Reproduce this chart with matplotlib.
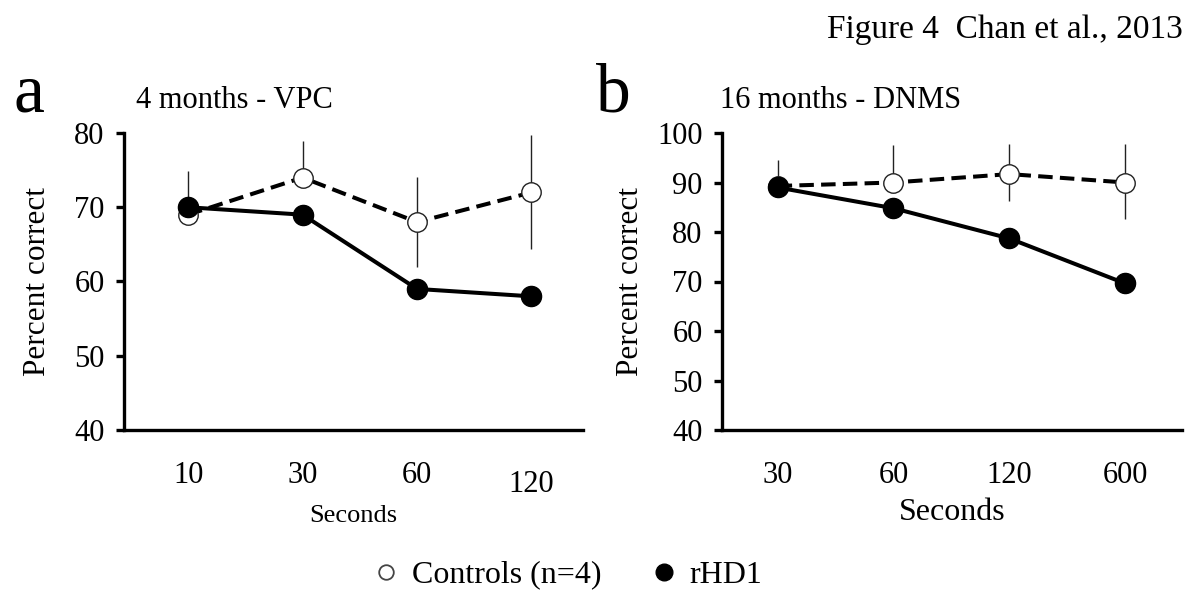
import matplotlib
matplotlib.use("Agg")
import matplotlib.pyplot as plt
from matplotlib.lines import Line2D
from matplotlib.transforms import ScaledTranslation

plt.rcParams['font.family'] = ['Liberation Serif', 'DejaVu Serif']

# Panel a data (4 months - VPC)
a_labels = ["10", "30", "60", "120"]
a_controls = [69.0, 74.0, 68.0, 72.0]
a_ctrl_err_lo = [0.0, 0.0, 6.0, 7.6]
a_ctrl_err_hi = [5.9, 4.9, 6.1, 7.7]
a_rhd1 = [70.0, 69.0, 59.0, 58.0]

# Panel b data (16 months - DNMS)
b_labels = ["30", "60", "120", "600"]
b_controls = [89.3, 90.0, 91.7, 90.0]
b_ctrl_err_lo = [0.0, 0.0, 5.5, 7.4]
b_ctrl_err_hi = [5.3, 7.6, 6.1, 7.8]
b_rhd1 = [89.0, 84.8, 78.7, 69.6]

fig = plt.figure(figsize=(12, 6), dpi=100)

def style_axes(ax, ylim, yticks, xlim):
    for s in ["top", "right"]:
        ax.spines[s].set_visible(False)
    for s in ["left", "bottom"]:
        ax.spines[s].set_linewidth(2.4)
    ax.set_ylim(*ylim)
    ax.set_yticks(yticks)
    ax.set_xlim(*xlim)
    ax.tick_params(axis="y", direction="out", length=6, width=2.4, labelsize=22, pad=8)
    ax.tick_params(axis="x", length=0, labelsize=22, pad=22)

def draw_panel(ax, labels, ctrl, lo, hi, rhd):
    x = list(range(len(labels)))
    ax.errorbar(x, ctrl, yerr=[lo, hi], fmt="none", ecolor="#222222",
                elinewidth=1.0, capsize=0, zorder=2)
    ax.plot(x, ctrl, linestyle=(0, (3.6, 1.8)), color="black", linewidth=2.9,
            marker="o", markersize=14, markerfacecolor="white",
            markeredgecolor="#222222", markeredgewidth=1.0, zorder=3)
    ax.plot(x, rhd, linestyle="-", color="black", linewidth=2.9,
            marker="o", markersize=14.5, markerfacecolor="black",
            markeredgecolor="black", zorder=4)
    ax.set_xticks(x)
    ax.set_xticklabels(labels)

axa = fig.add_axes([124/1200, 1 - 430/600, 459/1200, 297/600])
draw_panel(axa, a_labels, a_controls, a_ctrl_err_lo, a_ctrl_err_hi, a_rhd1)
style_axes(axa, (40, 80), [40, 50, 60, 70, 80], (-0.56, 3.45))
axa.set_ylabel("Percent correct", fontsize=22.5, labelpad=16)
axa.set_xlabel("Seconds", fontsize=19, labelpad=5)
# the last tick label sits slightly lower in the original figure
lbl = axa.get_xticklabels()[3]
lbl.set_transform(lbl.get_transform() + ScaledTranslation(0, -0.09, fig.dpi_scale_trans))

axb = fig.add_axes([722/1200, 1 - 430/600, 460/1200, 297/600])
draw_panel(axb, b_labels, b_controls, b_ctrl_err_lo, b_ctrl_err_hi, b_rhd1)
style_axes(axb, (40, 100), [40, 50, 60, 70, 80, 90, 100], (-0.48, 3.49))
axb.set_ylabel("Percent correct", fontsize=22.5, labelpad=9)
axb.set_xlabel("Seconds", fontsize=23, labelpad=6)

fig.text(0.011, 1 - 95/600, "a", fontsize=50, va="center", ha="left")
fig.text(0.497, 1 - 95/600, "b", fontsize=50, va="center", ha="left")
fig.text(136/1200, 1 - 101/600, "4 months - VPC", fontsize=22, va="center", ha="left")
fig.text(720/1200, 1 - 101/600, "16 months - DNMS", fontsize=22, va="center", ha="left")
fig.text(1183/1200, 1 - 30/600, "Figure 4  Chan et al., 2013", fontsize=24, va="center", ha="right")

handles = [
    Line2D([], [], linestyle="none", marker="o", markersize=10.5,
           markerfacecolor="white", markeredgecolor="#444444", markeredgewidth=1.3),
    Line2D([], [], linestyle="none", marker="o", markersize=12,
           markerfacecolor="black", markeredgecolor="black"),
]
fig.legend(handles, ["Controls (n=4)", "rHD1"], loc="center",
           bbox_to_anchor=(0.4717, 1 - 575/600), ncol=2, frameon=False,
           fontsize=23, handletextpad=0.3, columnspacing=1.45, handlelength=1.0)

fig.savefig("out.png", dpi=100)
